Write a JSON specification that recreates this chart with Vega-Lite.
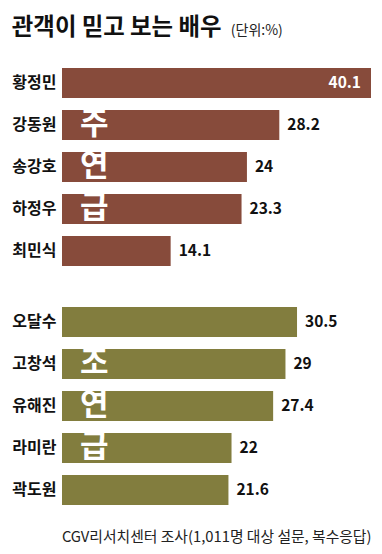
{
  "$schema": "https://vega.github.io/schema/vega-lite/v6.json",
  "background": "white",
  "padding": {"left": 11, "top": 15, "right": 9, "bottom": 8},
  "config": {
    "font": "Noto Sans CJK KR",
    "view": {"stroke": null},
    "concat": {"spacing": 29}
  },
  "title": {
    "text": "관객이 믿고 보는 배우",
    "anchor": "start",
    "frame": "bounds",
    "fontSize": 23.4,
    "fontWeight": "bold",
    "color": "#111",
    "offset": -16
  },
  "datasets": {
    "lead": [
      {"name": "황정민", "value": 40.1, "badge": ""},
      {"name": "강동원", "value": 28.2, "badge": "주"},
      {"name": "송강호", "value": 24, "badge": "연"},
      {"name": "하정우", "value": 23.3, "badge": "급"},
      {"name": "최민식", "value": 14.1, "badge": ""}
    ],
    "support": [
      {"name": "오달수", "value": 30.5, "badge": ""},
      {"name": "고창석", "value": 29, "badge": "조"},
      {"name": "유해진", "value": 27.4, "badge": "연"},
      {"name": "라미란", "value": 22, "badge": "급"},
      {"name": "곽도원", "value": 21.6, "badge": ""}
    ]
  },
  "vconcat": [
    {
      "data": {"name": "lead"},
      "width": 309,
      "height": 210,
      "title": {
        "text": "(단위:%)",
        "anchor": "start",
        "fontSize": 14,
        "fontWeight": "normal",
        "color": "#222",
        "dx": 219,
        "offset": 24
      },
      "encoding": {
        "y": {
          "field": "name", "type": "nominal", "sort": null,
          "scale": {"paddingInner": 0.2857, "paddingOuter": 0.143},
          "axis": {"title": null, "ticks": false, "domain": false, "labelFontSize": 16, "labelFontWeight": "bold", "labelColor": "#111", "labelPadding": 6}
        },
        "x": {
          "field": "value", "type": "quantitative",
          "scale": {"domain": [0, 40.1], "nice": false, "zero": true},
          "axis": null
        }
      },
      "layer": [
        {"mark": {"type": "bar", "color": "#874B3B", "cornerRadius": 0}},
        {
          "transform": [{"filter": "datum.value < 35"}],
          "mark": {"type": "text", "align": "left", "dx": 8, "fontSize": 15.5, "fontWeight": "bold", "color": "#111"},
          "encoding": {"text": {"field": "value", "type": "quantitative"}}
        },
        {
          "transform": [{"filter": "datum.value >= 35"}],
          "mark": {"type": "text", "align": "right", "dx": -10, "fontSize": 15.5, "fontWeight": "bold", "color": "white"},
          "encoding": {"text": {"field": "value", "type": "quantitative"}}
        },
        {
          "transform": [{"filter": "datum.badge != ''"}],
          "mark": {"type": "text", "align": "center", "baseline": "middle", "fontSize": 31, "fontWeight": "bold", "color": "white"},
          "encoding": {"x": {"datum": 4.2, "type": "quantitative"}, "text": {"field": "badge"}}
        }
      ]
    },
    {
      "data": {"name": "support"},
      "width": 309,
      "height": 210,
      "encoding": {
        "y": {
          "field": "name", "type": "nominal", "sort": null,
          "scale": {"paddingInner": 0.2857, "paddingOuter": 0.143},
          "axis": {"title": null, "ticks": false, "domain": false, "labelFontSize": 16, "labelFontWeight": "bold", "labelColor": "#111", "labelPadding": 6}
        },
        "x": {
          "field": "value", "type": "quantitative",
          "scale": {"domain": [0, 40.1], "nice": false, "zero": true},
          "axis": {"title": "CGV리서치센터 조사(1,011명 대상 설문, 복수응답)", "labels": false, "ticks": false, "domain": false, "grid": false, "titleFontSize": 14.8, "titleFontWeight": "normal", "titleColor": "#222", "titleAnchor": "end", "titlePadding": 18}
        }
      },
      "layer": [
        {"mark": {"type": "bar", "color": "#827D3E"}},
        {
          "mark": {"type": "text", "align": "left", "dx": 8, "fontSize": 15.5, "fontWeight": "bold", "color": "#111"},
          "encoding": {"text": {"field": "value", "type": "quantitative"}}
        },
        {
          "transform": [{"filter": "datum.badge != ''"}],
          "mark": {"type": "text", "align": "center", "baseline": "middle", "fontSize": 31, "fontWeight": "bold", "color": "white"},
          "encoding": {"x": {"datum": 4.2, "type": "quantitative"}, "text": {"field": "badge"}}
        }
      ]
    }
  ]
}
